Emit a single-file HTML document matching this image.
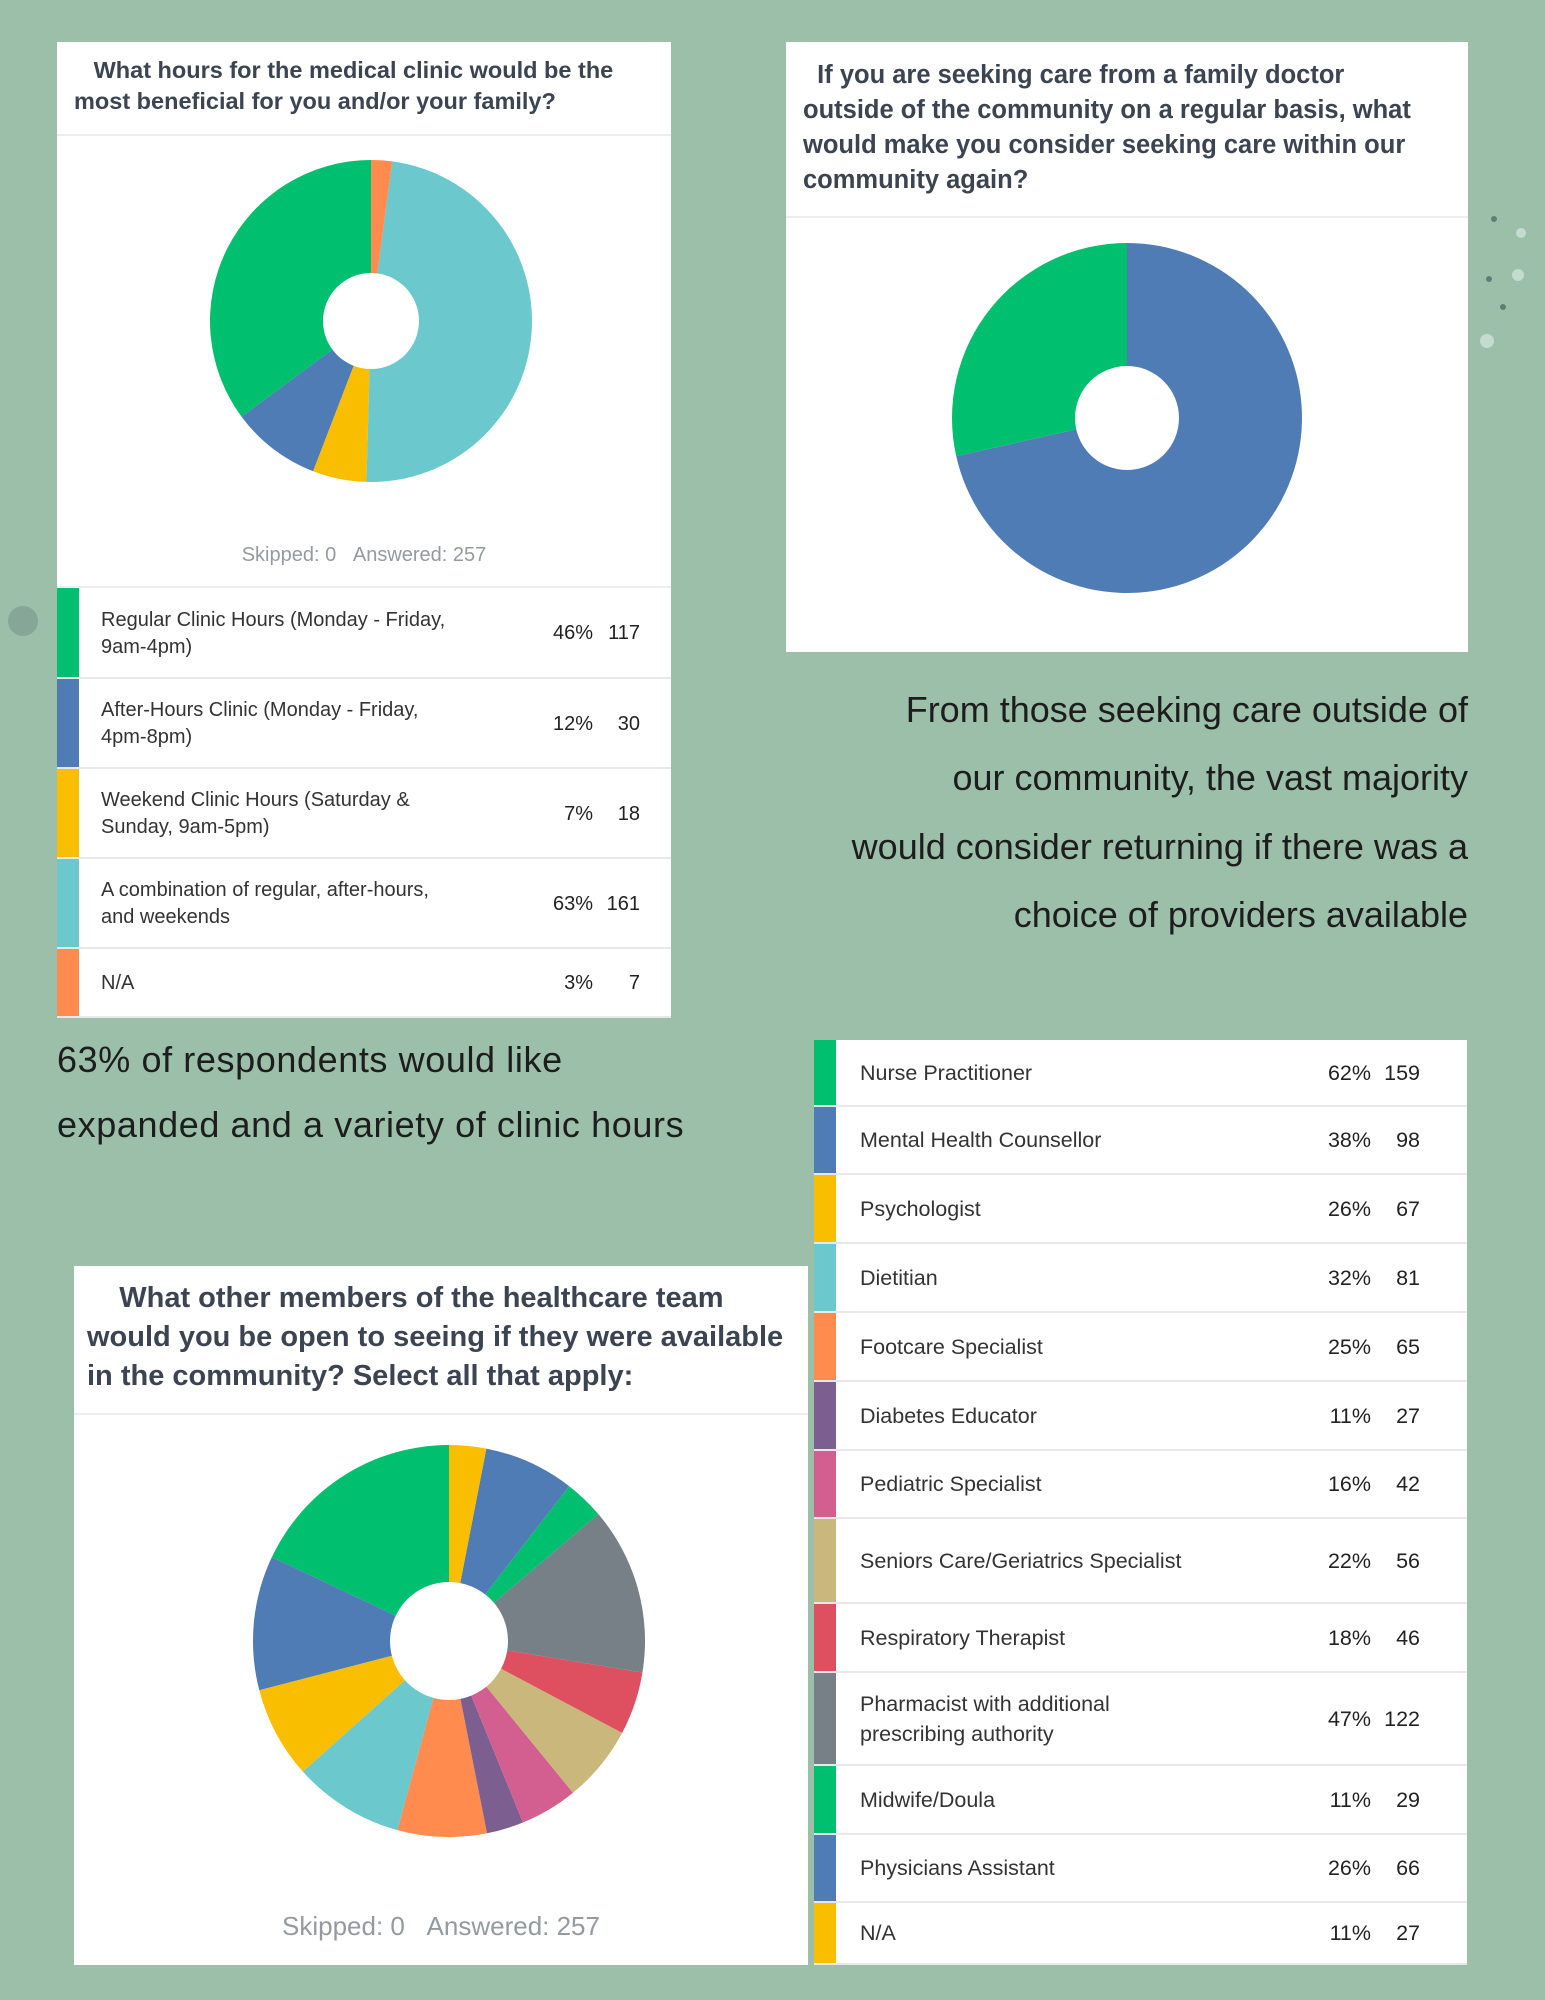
<!DOCTYPE html>
<html><head><meta charset="utf-8">
<style>
body{margin:0;}
#page{position:relative;width:1545px;height:2000px;background:#9bbfa9;overflow:hidden;font-family:"Liberation Sans",sans-serif;}
.panel{position:absolute;background:#fff;}
.title{position:absolute;font-weight:bold;color:#3b4450;}
.sep{position:absolute;left:0;right:0;height:2px;background:#eceeef;}
.row{position:absolute;background:#fff;border-bottom:2px solid #e6e8e9;box-sizing:border-box;}
.bar{position:absolute;left:0;top:0;bottom:0;width:22px;}
.lbl{position:absolute;color:#333;}
.num{position:absolute;text-align:right;color:#222;}
.big{position:absolute;color:#1d1d1d;font-weight:300;}
.dot{position:absolute;border-radius:50%;}
</style></head>
<body>
<div id="page">

<div class="dot" style="left:1491px;top:216px;width:6px;height:6px;background:#5f7f74"></div>
<div class="dot" style="left:1516px;top:228px;width:10px;height:10px;background:#c4dccf"></div>
<div class="dot" style="left:1486px;top:276px;width:6px;height:6px;background:#5f7f74"></div>
<div class="dot" style="left:1512px;top:269px;width:12px;height:12px;background:#c4dccf"></div>
<div class="dot" style="left:1500px;top:304px;width:6px;height:6px;background:#5f7f74"></div>
<div class="dot" style="left:1480px;top:334px;width:14px;height:14px;background:#c4dccf"></div>
<div class="dot" style="left:8px;top:606px;width:30px;height:30px;background:#86a697"></div>

<!-- Panel 1 -->
<div class="panel" style="left:57px;top:42px;width:614px;height:976px;">
  <div class="title" style="left:17px;top:13px;width:590px;font-size:23.5px;line-height:31px;">&nbsp;&nbsp;&nbsp;What hours for the medical clinic would be the most beneficial for you and/or your family?</div>
  <div class="sep" style="top:92px"></div>
  <svg id="pie1" style="position:absolute;left:0;top:0" width="614" height="560"></svg>
  <div style="position:absolute;left:0;width:614px;top:502px;text-align:center;color:#939aa0;font-size:20px">Skipped: 0&nbsp;&nbsp;&nbsp;Answered: 257</div>
  <div class="sep" style="top:544px"></div>
</div>
<div id="legend1"></div>

<!-- Panel 2 -->
<div class="panel" style="left:786px;top:42px;width:682px;height:610px;">
  <div class="title" style="left:17px;top:16px;width:630px;font-size:25.5px;line-height:35px;">&nbsp;&nbsp;If you are seeking care from a family doctor outside of the community on a regular basis, what would make you consider seeking care within our community again?</div>
  <div class="sep" style="top:174px"></div>
  <svg id="pie2" style="position:absolute;left:0;top:0" width="682" height="610"></svg>
</div>

<div class="big" style="left:780px;width:688px;text-align:right;top:676px;font-size:36px;line-height:68.3px">From those seeking care outside of<br>our community, the vast majority<br>would consider returning if there was a<br>choice of providers available</div>

<div class="big" style="left:57px;width:760px;top:1027px;font-size:36px;line-height:65px;letter-spacing:0.6px">63% of respondents would like<br>expanded and a variety of clinic hours</div>

<!-- Panel 3 -->
<div class="panel" style="left:74px;top:1266px;width:734px;height:699px;">
  <div class="title" style="left:13px;top:13px;width:720px;font-size:29px;line-height:39px;">&nbsp;&nbsp;&nbsp;&nbsp;What other members of the healthcare team would you be open to seeing if they were available in the community? Select all that apply:</div>
  <div class="sep" style="top:147px"></div>
  <svg id="pie3" style="position:absolute;left:0;top:0" width="734" height="640"></svg>
  <div style="position:absolute;left:0;width:734px;top:645px;text-align:center;color:#939aa0;font-size:26px">Skipped: 0&nbsp;&nbsp;&nbsp;Answered: 257</div>
</div>
<div id="legend3"></div>
</div>

<script>
const hoursLabels=["Regular Clinic Hours (Monday - Friday,<br>9am-4pm)","After-Hours Clinic (Monday - Friday,<br>4pm-8pm)","Weekend Clinic Hours (Saturday &amp;<br>Sunday, 9am-5pm)","A combination of regular, after-hours,<br>and weekends","N/A"];
const hoursPct=["46%","12%","7%","63%","3%"];
const hoursCounts=[117,30,18,161,7];
const hoursColors=["#00bf6f","#507cb6","#f9be00","#6bc8cd","#ff8b4f"];

const careValues=[71.5,28.5];
const careColors=["#507cb6","#00bf6f"];

const teamLabels=["Nurse Practitioner","Mental Health Counsellor","Psychologist","Dietitian","Footcare Specialist","Diabetes Educator","Pediatric Specialist","Seniors Care/Geriatrics Specialist","Respiratory Therapist","Pharmacist with additional<br>prescribing authority","Midwife/Doula","Physicians Assistant","N/A"];
const teamPct=["62%","38%","26%","32%","25%","11%","16%","22%","18%","47%","11%","26%","11%"];
const teamCounts=[159,98,67,81,65,27,42,56,46,122,29,66,27];
const teamColors=["#00bf6f","#507cb6","#f9be00","#6bc8cd","#ff8b4f","#7d5e90","#d25f90","#c9b77b","#de4f5f","#768086","#00bf6f","#507cb6","#f9be00"];

const NS="http://www.w3.org/2000/svg";
function donut(svg,vals,cols,cx,cy,r,hr,dir,name){
  const tot=vals.reduce((a,b)=>a+b,0);let a=0;
  vals.forEach((v,i)=>{
    const a0=a,a1=a+v/tot*2*Math.PI;a=a1;
    const p=t=>[cx+dir*r*Math.sin(t),cy-r*Math.cos(t)];
    const [x0,y0]=p(a0),[x1,y1]=p(a1);
    const large=(a1-a0)>Math.PI?1:0;
    const path=document.createElementNS(NS,"path");
    path.setAttribute("d",`M${cx},${cy}L${x0},${y0}A${r},${r} 0 ${large} ${dir>0?1:0} ${x1},${y1}Z`);
    path.setAttribute("fill",cols[i]);
    
    
    svg.appendChild(path);
  });
  const c=document.createElementNS(NS,"circle");
  c.setAttribute("cx",cx);c.setAttribute("cy",cy);c.setAttribute("r",hr);c.setAttribute("fill","#fff");
  
  
  svg.appendChild(c);
}
donut(document.getElementById("pie1"),hoursCounts,hoursColors,314,279,161,48,-1,"clinic-hours");
donut(document.getElementById("pie2"),careValues,careColors,341,376,175,52,1,"outside-care");
donut(document.getElementById("pie3"),teamCounts,teamColors,375,375,196,59,-1,"healthcare-team");

function legend(host,labels,pct,counts,cols,left,width,tops,fs,lx,pr,cr,name){
  labels.forEach((l,i)=>{
    const r=document.createElement("div");r.className="row";
    
    
    const h=tops[i+1]-tops[i];
    r.style.cssText=`left:${left}px;top:${tops[i]}px;width:${width}px;height:${h}px;font-size:${fs}px;`;
    const multi=l.indexOf("<br>")>=0;
    const lh=fs*1.35;
    const ty=multi?(h-2*lh)/2:(h-lh)/2;
    r.innerHTML=`<div class="bar" style="background:${cols[i]}"></div>`+
      `<div class="lbl" style="left:${lx}px;top:${ty}px;line-height:${lh}px">${l}</div>`+
      `<div class="num" style="right:${width-pr}px;top:${(h-lh)/2}px;line-height:${lh}px">${pct[i]}</div>`+
      `<div class="num" style="right:${width-cr}px;top:${(h-lh)/2}px;line-height:${lh}px">${counts[i]}</div>`;
    host.appendChild(r);
  });
}
legend(document.getElementById("legend1"),hoursLabels,hoursPct,hoursCounts,hoursColors,57,614,[588,679,769,859,949,1018],20,44,536,583,"clinic-hours-legend");
legend(document.getElementById("legend3"),teamLabels,teamPct,teamCounts,teamColors,814,653,[1040,1107,1175,1244,1313,1382,1451,1519,1604,1673,1766,1835,1903,1965],21.5,46,557,606,"healthcare-team-legend");
</script>
</body></html>
